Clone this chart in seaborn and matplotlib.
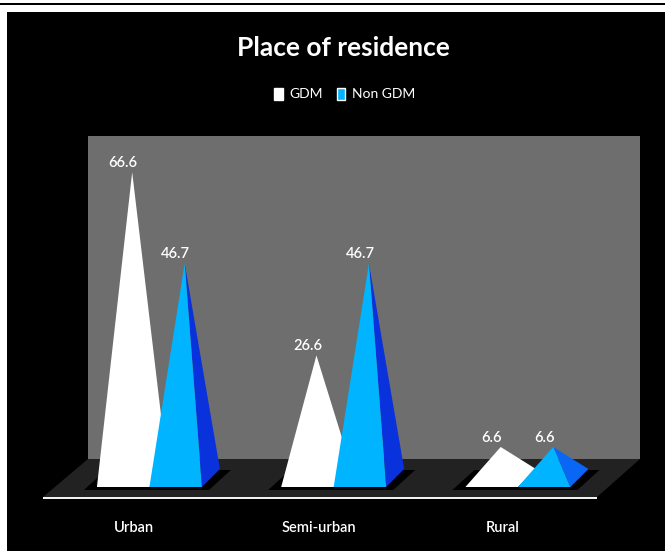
"""Place of residence: pyramid chart on a black panel."""

import matplotlib

matplotlib.use("Agg")

import matplotlib.pyplot as plt
import pandas as pd
import seaborn as sns
from matplotlib.patches import Polygon, Rectangle

places = ["Urban", "Semi-urban", "Rural"]
gdm = [66.6, 26.6, 6.6]
non_gdm = [46.7, 46.7, 6.6]
groups = ["GDM", "Non GDM"]

W, H = 665, 551
PX_PER_CAT = 184.25
PX_PER_UNIT = 4.58
ZERO_PX = 477.2
BAR_PX = 52.5
FONT = "Lato"

sns.set_theme(style="dark", rc={"font.family": FONT, "axes.grid": False})


def px(x, y):
    return x / W, 1 - y / H


def backdrop(fig, pts, color):
    fig.add_artist(Polygon([px(*p) for p in pts], closed=True, facecolor=color,
                           edgecolor="none", transform=fig.transFigure, zorder=-1))


df = pd.DataFrame({
    "place": places * 2,
    "group": [groups[0]] * 3 + [groups[1]] * 3,
    "value": gdm + non_gdm,
})

fig = plt.figure(figsize=(W / 100, H / 100), dpi=100, facecolor="white")

# page rule, black panel, wall, floor
fig.add_artist(Rectangle(px(0, 5), 1, 2 / H, transform=fig.transFigure,
                         facecolor="black", edgecolor="none", zorder=-1))
backdrop(fig, [(7, 12), (665, 12), (665, 551), (7, 551)], "black")
backdrop(fig, [(88, 136), (640, 136), (640, 459), (88, 459)], "#6e6e6e")
backdrop(fig, [(88, 459), (640, 459), (597, 497), (43, 497)], "#222222")
backdrop(fig, [(43, 497), (597, 497), (597, 499), (43, 499)], "#f2f2f2")

left, right = px(57.3, 497)[0], px(57.3 + 3 * PX_PER_CAT, 497)[0]
bottom, top = px(0, 497)[1], px(0, 136)[1]
ax = fig.add_axes([left, bottom, right - left, top - bottom], facecolor="none")

sns.barplot(data=df, x="place", y="value", hue="group", order=places, hue_order=groups,
            palette=["white", "#00b4ff"], width=2 * BAR_PX / PX_PER_CAT, saturation=1,
            ax=ax)
ax.set_xlim(-0.5, 2.5)
ax.set_ylim((ZERO_PX - 497) / PX_PER_UNIT, (ZERO_PX - 136) / PX_PER_UNIT)

depth_x = 18 / PX_PER_CAT
front_y = (ZERO_PX - 487) / PX_PER_UNIT
back_y = (ZERO_PX - 469) / PX_PER_UNIT
side_colors = ["#0a32dc", "#0a32dc", "#0a66f5"]

white_bars, blue_bars = ax.containers[0], ax.containers[1]

for i, (wb, bb) in enumerate(zip(white_bars, blue_bars)):
    # shadow on the floor under each pair
    x0 = wb.get_x() - 13 / PX_PER_CAT
    x1 = bb.get_x() + bb.get_width() + 7 / PX_PER_CAT
    sy0, sy1 = (ZERO_PX - 490) / PX_PER_UNIT, (ZERO_PX - 470) / PX_PER_UNIT
    skew = 22 / PX_PER_CAT
    ax.fill([x0, x1, x1 + skew, x0 + skew], [sy0, sy0, sy1, sy1], color="black",
            lw=0, zorder=2)

    fl, fr = wb.get_x(), wb.get_x() + wb.get_width()
    apex = (fl + fr + depth_x) / 2
    ax.fill([fl, fr, fr + depth_x, apex], [front_y, front_y, back_y, wb.get_height()],
            color="white", lw=0, zorder=3)

    fl, fr = bb.get_x(), bb.get_x() + bb.get_width()
    apex = (fl + fr + depth_x) / 2
    ax.fill([fr, fr + depth_x, apex], [front_y, back_y, bb.get_height()],
            color=side_colors[i], lw=0, zorder=4)
    ax.fill([fl, fr, apex], [front_y, front_y, bb.get_height()],
            color="#00b4ff", lw=0, zorder=5)

for container in ax.containers:
    ax.bar_label(container, fmt="%.1f", padding=1.5, color="white", fontsize=10.5,
                 fontweight="semibold", zorder=6)

# legend first, so its handles keep their colours when the bars are hidden
sns.move_legend(ax, "center", bbox_to_anchor=(px(345, 94)[0], px(0, 94)[1]),
                bbox_transform=fig.transFigure, ncol=2, frameon=False, title=None,
                fontsize=10, labelcolor="white", handlelength=0.6, handleheight=1.0,
                handletextpad=0.5, columnspacing=1.0)
for container in ax.containers:
    for bar in container:
        bar.set_visible(False)

ax.set_xticks([k - 15 / PX_PER_CAT for k in range(3)], places)
ax.tick_params(axis="x", length=0, pad=17, labelsize=10.5, labelcolor="white")
for lab in ax.get_xticklabels():
    lab.set_fontweight("semibold")
ax.set_yticks([])
ax.set_xlabel("")
ax.set_ylabel("")
sns.despine(ax=ax, left=True, bottom=True)

fig.text(px(343, 0)[0], px(0, 48)[1], "Place of residence", color="white", fontsize=19,
         fontweight="bold", ha="center", va="center")

fig.savefig("out.png", dpi=100, facecolor=fig.get_facecolor())
